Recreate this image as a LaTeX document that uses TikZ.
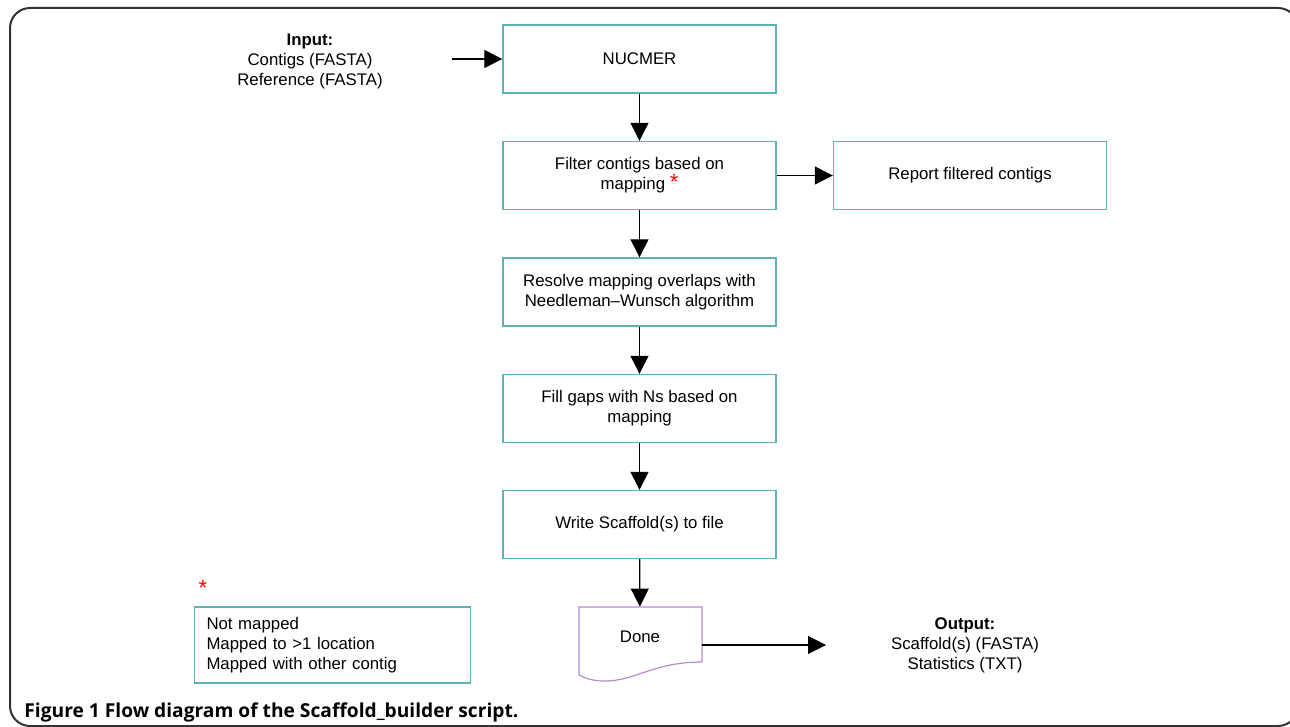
\documentclass[tikz,border=0pt]{standalone}
\usepackage{fontspec}
\setmainfont{Liberation Sans}
\newfontfamily\capfont{Open Sans}
\usepackage{xcolor}
\usetikzlibrary{arrows.meta,positioning,calc}
\definecolor{boxteal}{RGB}{95,178,178}
\definecolor{donepurple}{RGB}{182,140,200}
\newcommand{\redstar}{{\color{red}\fontsize{11}{10}\selectfont *}}

\begin{document}
\begin{tikzpicture}[x=0.5pt,y=-0.5pt,
  every node/.style={font=\fontsize{8.4}{10}\selectfont},
  pstep/.style={draw=boxteal,line width=0.7pt,minimum width=136.5pt,minimum height=34pt,align=center,inner sep=0pt},
  arr/.style={-{Triangle[length=9pt,width=9pt]},line width=0.6pt}
]
\useasboundingbox (0,0) rectangle (1290,727);
\draw[line width=1pt,draw=black!80,rounded corners=10] (10,8) rectangle (1298,726);
\node[pstep] (nucmer) at (639.5,59) {NUCMER};
\node[pstep] (filter) at (639.5,175.5) {Filter contigs based on\\mapping \redstar};
\node[pstep] (report) at (970,175.5) {Report filtered contigs};
\node[pstep] (resolve) at (639.5,292) {Resolve mapping overlaps with\\Needleman--Wunsch algorithm};
\node[pstep] (fill) at (639.5,408.5) {Fill gaps with Ns based on\\mapping};
\node[pstep] (write) at (639.5,524.5) {Write Scaffold(s) to file};
% document shape for the end step
\draw[donepurple,line width=0.6pt] (579,675) -- (579,607) -- (702,607) -- (702,662)
  .. controls (670,662) and (652,670) .. (630,677) .. controls (606,684) and (590,681) .. (579,675);
\node[minimum width=61.5pt,minimum height=30pt] (done) at (640,637) {Done};
\node[align=center] (input) at (310,61) {\textbf{Input:}\\Contigs (FASTA)\\Reference (FASTA)};
\node[align=center] (output) at (965,645) {\textbf{Output:}\\Scaffold(s) (FASTA)\\Statistics (TXT)};
\node (legstar) at (203,588) {\redstar};
\node[draw=boxteal,line width=0.7pt,minimum height=38pt,text width=126pt,inner xsep=6pt,align=left] (legend) at (332.5,645)
  {Not mapped\\Mapped to >1 location\\Mapped with other contig};
\coordinate (intail) at (452,59);
\coordinate (outtip) at (826,645);
\draw[arr] (intail) -- (nucmer.west);
\draw[arr] (nucmer) -- (filter);
\draw[arr] (filter) -- (report);
\draw[arr] (filter) -- (resolve);
\draw[arr] (resolve) -- (fill);
\draw[arr] (fill) -- (write);
\draw[arr] (write) -- (done);
\draw[arr] (done.east |- outtip) -- (outtip);
\node[anchor=base west,inner sep=0pt,font=\capfont\bfseries\fontsize{9.6}{11}\selectfont] (caption) at (24,717)
  {Figure 1 Flow diagram of the Scaffold\_builder script.};
\end{tikzpicture}
\end{document}
